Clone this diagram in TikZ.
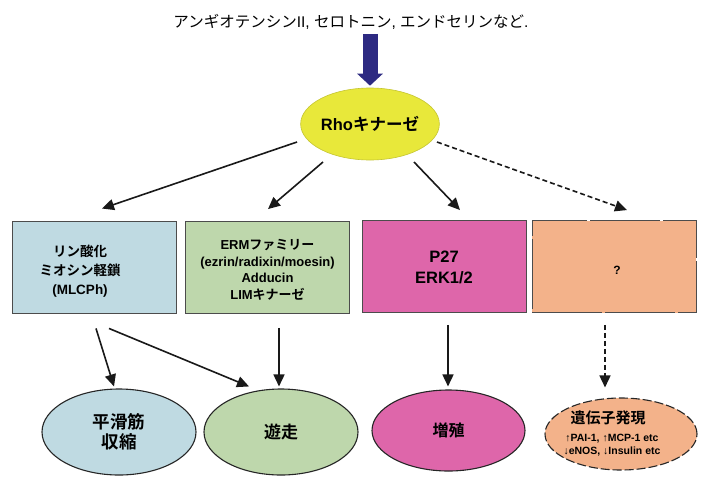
\documentclass[tikz,border=0pt]{standalone}
\usepackage{fontspec}
\setmainfont{Liberation Sans}
\newfontfamily\jp{Noto Sans CJK JP}[BoldFont={Noto Sans CJK JP Bold}]
\usetikzlibrary{shapes.geometric,arrows.meta}
\newcommand\J[1]{{\jp #1}}
\definecolor{cyel}{RGB}{232,232,58}
\definecolor{cblue}{RGB}{191,218,226}
\definecolor{cgreen}{RGB}{190,215,172}
\definecolor{cpink}{RGB}{222,102,170}
\definecolor{corange}{RGB}{243,178,138}
\definecolor{cnavy}{RGB}{45,42,130}
\begin{document}
\begin{tikzpicture}[x=1pt,y=-1pt,
  box/.style={rectangle, draw=black!70, line width=0.9pt, minimum width=164pt, minimum height=92pt, inner sep=0pt},
  oval/.style={ellipse, draw=black!85, line width=1.1pt, inner sep=0pt, align=center, font=\bfseries},
  lbl/.style={align=center, font=\bfseries\fontsize{13}{16.5}\selectfont, inner sep=0pt},
  arr/.style={line width=1.6pt, black!90, -{Triangle[length=12pt,width=11pt]}},
  darr/.style={arr, dash pattern=on 5pt off 3pt}
]
\fill[white] (0,0) rectangle (704,477);
\useasboundingbox (0,0) rectangle (704,477);

% top text
\node[font=\fontsize{15.5}{18}\selectfont, inner sep=0pt] (top) at (351,22)
  {\J{アンギオテンシン}II, \J{セロトニン}, \J{エンドセリンなど}.};

% Rho kinase
\node[ellipse, fill=cyel, draw=cyel!85!black, line width=0.6pt, minimum width=134pt, minimum height=72pt, inner sep=0pt,
  font=\bfseries\fontsize{16.5}{19}\selectfont] (rho) at (370,124) {Rho\J{キナーゼ}};

% blue block arrow
\draw[cnavy, line width=15pt, -{Triangle[length=12pt,width=25pt]}]
  ([yshift=-4pt]top.south -| rho.north) -- ([yshift=2pt]rho.north);

% boxes
\node[box, fill=cblue] (b1) at (94,267) {};
\node[box, fill=cgreen] (b2) at (267.5,267.5) {};
\node[box, fill=cpink] (b3) at (444.5,266.5) {};
\node[box, fill=corange, dash pattern=on 70pt off 3pt] (b4) at (614,266.5) {};

\node[lbl, font=\bfseries\fontsize{13.5}{19}\selectfont] (t1) at (80,271) {\J{リン酸化}\\\J{ミオシン軽鎖}\\(MLCPh)};
\node[lbl] (t2) at (267.5,270) {ERM\J{ファミリー}\\(ezrin/radixin/moesin)\\Adducin\\LIM\J{キナーゼ}};
\node[lbl, font=\bfseries\fontsize{16.5}{21}\selectfont] (t3) at (444,267) {P27\\ERK1/2};
\node[lbl, font=\bfseries\fontsize{12}{14}\selectfont] (t4) at (617,270) {?};

% ellipses
\node[oval, fill=cblue, minimum width=154pt, minimum height=86pt, font=\bfseries\fontsize{17.5}{20.5}\selectfont] (e1) at (119,432) {\J{平滑筋}\\\J{収縮}};
\node[oval, fill=cgreen, minimum width=154pt, minimum height=86pt, font=\bfseries\fontsize{17}{20}\selectfont] (e2) at (281,432) {\J{遊走}};
\node[oval, fill=cpink, minimum width=153pt, minimum height=81pt, font=\bfseries\fontsize{16}{20}\selectfont] (e3) at (448.5,430.5) {\J{増殖}};
\node[oval, fill=corange, dash pattern=on 9pt off 3pt, minimum width=152pt, minimum height=72pt] (e4) at (621,434) {};
\node[lbl, font=\bfseries\fontsize{15}{18}\selectfont] (t5) at (608,418) {\J{遺伝子発現}};
\node[lbl, font=\bfseries\fontsize{10.5}{12}\selectfont] (t6) at (612,439) {↑PAI-1, ↑MCP-1 etc};
\node[lbl, font=\bfseries\fontsize{10.5}{12}\selectfont] (t7) at (612,452) {↓eNOS, ↓Insulin etc};

% arrows from Rho
\draw[arr] ([shift={(-73,18)}]rho.center) -- ([shift={(8,-12)}]b1.north);
\draw[arr] ([shift={(-47,38)}]rho.center) -- ([shift={(0.5,-12)}]b2.north);
\draw[arr] ([shift={(44,38)}]rho.center) -- ([shift={(15.5,-10)}]b3.north);
\draw[darr] ([shift={(67,18)}]rho.center) -- ([shift={(13,-10)}]b4.north);

% arrows to outcomes
\draw[arr] ([shift={(2,15)}]b1.south) -- ([shift={(-5,-2)}]e1.north);
\draw[arr] ([shift={(15,15)}]b1.south) -- ([shift={(-32,-2)}]e2.north);
\draw[arr] ([shift={(11.5,14)}]b2.south) -- ([shift={(-2,-2)}]e2.north);
\draw[arr] ([shift={(3.5,12)}]b3.south) -- ([shift={(-0.5,-3)}]e3.north);
\draw[darr] ([shift={(-9,12)}]b4.south) -- ([shift={(-16,-10)}]e4.north);
\end{tikzpicture}
\end{document}
